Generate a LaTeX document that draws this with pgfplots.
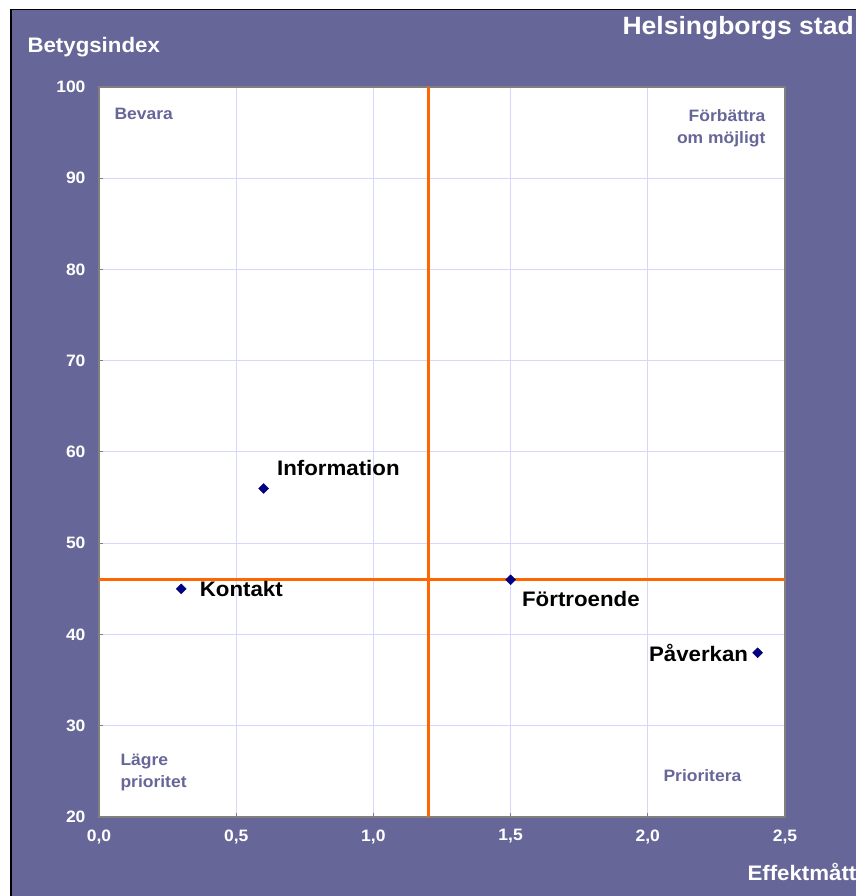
\documentclass[border=0pt]{standalone}
\usepackage{fontspec}
\setmainfont{Liberation Sans}[FakeStretch=1.06]
\usepackage{pgfplots}
\pgfplotsset{compat=1.18}
\definecolor{bgpurple}{HTML}{666699}
\definecolor{gridc}{HTML}{D6D6FF}
\definecolor{orangeline}{HTML}{FF6600}
\definecolor{navy}{HTML}{000080}
\begin{document}
\begin{tikzpicture}[x=1pt,y=1pt]
\useasboundingbox (0,0) rectangle (856,896);
\fill[white] (0,0) rectangle (856,896);
\fill[bgpurple] (10,0) rectangle (856,887);
\draw[black,line width=1.5pt] (10.75,0) -- (10.75,886.25) -- (856,886.25);
\begin{axis}[
  at={(99pt,79pt)}, anchor=south west,
  scale only axis, width=686pt, height=730pt,
  xmin=0, xmax=2.5, ymin=20, ymax=100,
  xtick={0,0.5,1,1.5,2,2.5}, ytick={20,30,40,50,60,70,80,90,100},
  grid=major, grid style={gridc, line width=1pt},
  axis line style={draw=gray, line width=2pt},
  axis background/.style={fill=white},
  tick style={gray, line width=1pt}, major tick length=4pt, tick align=inside,
  xtick pos=bottom, ytick pos=left,
  /pgf/number format/assume math mode=true,
  ticklabel style={font=\fontsize{16.5}{16.5}\selectfont\bfseries, text=white},
  x tick label style={/pgf/number format/use comma, /pgf/number format/fixed, /pgf/number format/fixed zerofill, /pgf/number format/precision=1, yshift=-9pt},
  y tick label style={/pgf/number format/fixed, /pgf/number format/precision=0, xshift=-10pt},
  clip=false,
]
\addplot[orangeline, line width=3.2pt] coordinates {(1.2,20) (1.2,100)};
\addplot[orangeline, line width=3.2pt] coordinates {(0,46) (2.5,46)};
\addplot[only marks, mark=square*, mark size=3.5pt, mark options={rotate=45, fill=navy, draw=navy}] coordinates {
  (0.3,45) (0.6,56) (1.5,46) (2.4,38)
};
\node[anchor=west, font=\fontsize{21}{21}\selectfont\bfseries] at (axis cs:0.6,56) [xshift=10pt, yshift=21pt] {Information};
\node[anchor=west, font=\fontsize{21}{21}\selectfont\bfseries] at (axis cs:0.3,45) [xshift=15pt] {Kontakt};
\node[anchor=west, font=\fontsize{21}{21}\selectfont\bfseries] at (axis cs:1.5,46) [xshift=8pt, yshift=-19pt] {Förtroende};
\node[anchor=east, font=\fontsize{21}{21}\selectfont\bfseries] at (axis cs:2.4,38) [xshift=-6pt] {Påverkan};
\node[anchor=west, text=bgpurple, font=\fontsize{16.5}{22}\selectfont\bfseries] at (axis cs:0,97.04) [xshift=12pt] {Bevara};
\node[anchor=east, text=bgpurple, font=\fontsize{16.5}{22}\selectfont\bfseries, align=right] at (axis cs:2.5,95.5) [xshift=-16pt] {Förbättra\\om möjligt};
\node[anchor=west, text=bgpurple, font=\fontsize{16.5}{22}\selectfont\bfseries, align=left] at (axis cs:0,24.93) [xshift=18pt] {Lägre\\prioritet};
\node[anchor=west, text=bgpurple, font=\fontsize{16.5}{22}\selectfont\bfseries] at (axis cs:2.5,24.5) [xshift=-125pt] {Prioritera};
\end{axis}
\node[anchor=west, text=white, font=\fontsize{21}{21}\selectfont\bfseries] at (24,849) {Betygsindex};
\node[anchor=west, text=white, font=\fontsize{25}{25}\selectfont\bfseries] at (619,868) {Helsingborgs stad};
\node[anchor=west, text=white, font=\fontsize{21}{21}\selectfont\bfseries] at (744,24) {Effektmått};
\end{tikzpicture}
\end{document}
